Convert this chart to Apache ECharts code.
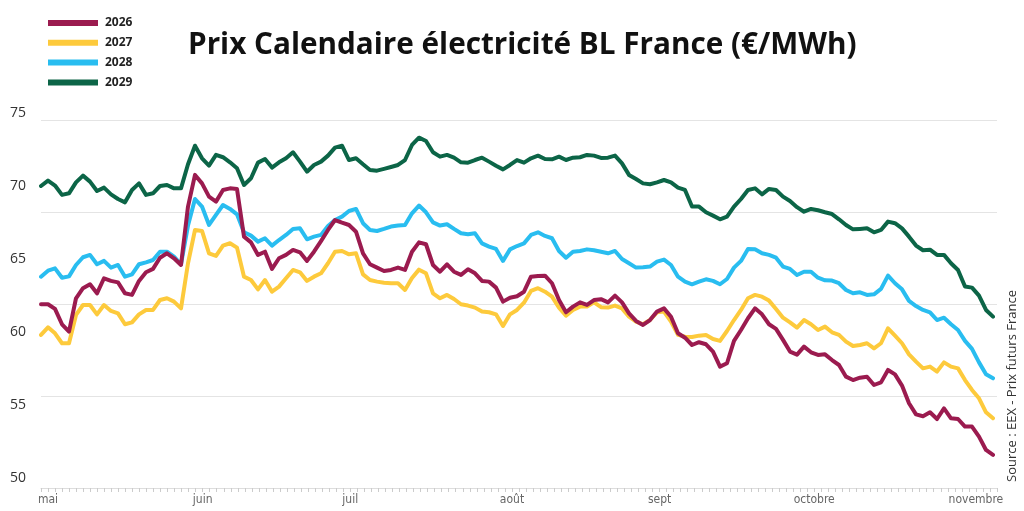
<!DOCTYPE html>
<html>
<head>
<meta charset="utf-8">
<script src="https://cdn.jsdelivr.net/npm/echarts@6/dist/echarts.min.js"></script>
<style>
html,body{margin:0;padding:0;background:#fff;}
#chart{width:1024px;height:511px;}
</style>
</head>
<body>
<div id="chart"></div>
<script>
const dates = [
'2025-04-30',
'2025-05-01','2025-05-02','2025-05-05','2025-05-06','2025-05-07','2025-05-08','2025-05-09','2025-05-12','2025-05-13','2025-05-14','2025-05-15','2025-05-16','2025-05-19','2025-05-20','2025-05-21','2025-05-22','2025-05-23','2025-05-26','2025-05-27','2025-05-28','2025-05-29','2025-05-30',
'2025-06-02','2025-06-03','2025-06-04','2025-06-05','2025-06-06','2025-06-09','2025-06-10','2025-06-11','2025-06-12','2025-06-13','2025-06-16','2025-06-17','2025-06-18','2025-06-19','2025-06-20','2025-06-23','2025-06-24','2025-06-25','2025-06-26','2025-06-27','2025-06-30',
'2025-07-01','2025-07-02','2025-07-03','2025-07-04','2025-07-07','2025-07-08','2025-07-09','2025-07-10','2025-07-11','2025-07-14','2025-07-15','2025-07-16','2025-07-17','2025-07-18','2025-07-21','2025-07-22','2025-07-23','2025-07-24','2025-07-25','2025-07-28','2025-07-29','2025-07-30','2025-07-31',
'2025-08-01','2025-08-04','2025-08-05','2025-08-06','2025-08-07','2025-08-08','2025-08-11','2025-08-12','2025-08-13','2025-08-14','2025-08-15','2025-08-18','2025-08-19','2025-08-20','2025-08-21','2025-08-22','2025-08-25','2025-08-26','2025-08-27','2025-08-28','2025-08-29',
'2025-09-01','2025-09-02','2025-09-03','2025-09-04','2025-09-05','2025-09-08','2025-09-09','2025-09-10','2025-09-11','2025-09-12','2025-09-15','2025-09-16','2025-09-17','2025-09-18','2025-09-19','2025-09-22','2025-09-23','2025-09-24','2025-09-25','2025-09-26','2025-09-29','2025-09-30',
'2025-10-01','2025-10-02','2025-10-03','2025-10-06','2025-10-07','2025-10-08','2025-10-09','2025-10-10','2025-10-13','2025-10-14','2025-10-15','2025-10-16','2025-10-17','2025-10-20','2025-10-21','2025-10-22','2025-10-23','2025-10-24','2025-10-27','2025-10-28','2025-10-29','2025-10-30','2025-10-31',
'2025-11-03','2025-11-04','2025-11-05','2025-11-06'
];

const cal2026 = [
61.9,61.9,61.58,60.53,60.03,62.31,63.0,63.27,62.65,63.68,63.5,63.4,62.65,62.54,63.5,64.09,64.32,65.09,65.39,65.05,64.59,68.59,70.76,70.18,69.27,68.93,69.73,
69.84,69.8,66.53,66.14,65.28,65.5,64.32,65.05,65.28,65.62,65.46,64.87,65.5,66.23,66.99,67.67,67.49,67.33,66.87,65.39,64.64,64.41,64.18,64.25,64.41,64.25,
65.5,
66.14,66.01,64.59,64.13,64.64,64.13,63.91,64.3,64.02,63.5,63.45,63.04,62.08,62.35,62.45,62.76,63.79,63.84,63.86,63.34,62.19,61.35,61.74,62.03,61.85,62.19,
62.25,
62.03,62.49,62.03,61.28,60.76,60.48,60.82,61.4,61.62,61.05,59.91,59.61,59.11,59.3,59.16,58.66,57.63,57.86,59.39,60.14,60.94,61.62,61.21,60.53,60.21,59.46,58.66,
58.45,
59.0,58.61,58.43,58.47,58.08,57.74,56.94,56.71,56.87,56.94,56.37,56.55,57.4,57.1,56.33,55.12,54.36,54.23,54.5,54.04,54.77,54.09,54.04,53.52,53.52,52.83,51.92,51.58
];

const cal2027 = [
59.8,60.32,59.91,59.23,59.23,61.17,61.85,61.85,61.21,61.85,61.44,61.28,60.53,60.66,61.21,61.51,61.51,62.19,62.31,62.08,61.62,64.71,66.99,66.92,65.39,65.21,65.92,
66.08,65.78,63.79,63.56,62.92,63.56,62.76,63.11,63.68,64.25,64.09,63.5,63.79,64.02,64.71,65.5,65.55,65.32,65.39,63.95,63.56,63.45,63.38,63.34,63.34,62.88,
63.7,
64.27,64.02,62.65,62.31,62.54,62.26,61.9,61.81,61.67,61.4,61.35,61.21,60.41,61.21,61.51,62.01,62.81,63.0,62.76,62.42,61.67,61.12,61.51,61.74,61.74,62.03,
61.7,
61.67,61.81,61.62,61.05,60.71,60.53,60.82,61.35,61.4,60.71,59.8,59.68,59.66,59.75,59.8,59.52,59.39,60.07,60.82,61.51,62.31,62.54,62.42,62.15,61.58,60.98,60.66,
60.3,
60.82,60.53,60.14,60.37,59.98,59.8,59.34,59.04,59.11,59.23,58.88,59.23,60.25,59.75,59.23,58.47,57.97,57.51,57.63,57.29,57.92,57.63,57.51,56.71,56.03,55.46,54.5,54.09
];

const cal2028 = [
63.79,64.2,64.36,63.72,63.81,64.59,65.12,65.28,64.64,64.87,64.41,64.59,63.79,63.95,64.64,64.77,64.93,65.5,65.5,65.16,64.64,67.29,69.11,68.59,67.33,68.02,68.7,
68.43,68.06,66.83,66.6,66.19,66.42,65.92,66.3,66.65,67.06,67.1,66.35,66.53,66.65,67.26,67.67,67.9,68.29,68.43,67.45,66.99,66.92,67.06,67.22,67.29,67.33,
68.13,
68.66,68.2,67.51,67.29,67.38,67.06,66.76,66.69,66.76,66.07,65.85,65.69,64.87,65.66,65.89,66.07,66.65,66.83,66.58,66.42,65.55,65.09,65.5,65.55,65.66,65.6,
65.5,
65.39,65.55,65.0,64.71,64.41,64.43,64.48,64.82,64.96,64.59,63.79,63.45,63.27,63.45,63.61,63.5,63.27,63.63,64.41,64.87,65.69,65.66,65.39,65.28,65.09,64.48,64.32,
63.9,
64.13,64.13,63.72,63.54,63.52,63.34,62.88,62.65,62.72,62.54,62.58,62.95,63.86,63.34,62.92,62.13,61.78,61.51,61.35,60.82,60.98,60.53,60.14,59.39,58.84,57.92,57.1,56.83
];

const cal2029 = [
70.0,70.37,70.03,69.39,69.5,70.25,70.71,70.3,69.66,69.89,69.43,69.11,68.88,69.73,70.18,69.39,69.5,70.0,70.07,69.84,69.84,71.49,72.76,71.9,71.4,72.13,71.97,
71.62,71.21,70.07,70.53,71.6,71.85,71.26,71.62,71.9,72.31,71.67,70.98,71.44,71.67,72.08,72.63,72.76,71.78,71.9,71.49,71.1,71.05,71.17,71.3,71.44,71.78,
72.81,
73.31,73.08,72.31,72.01,72.13,71.94,71.62,71.6,71.78,71.94,71.67,71.39,71.14,71.44,71.78,71.6,71.9,72.08,71.85,71.83,72.01,71.78,71.94,71.97,72.13,72.08,
71.92,
71.94,72.08,71.55,70.76,70.48,70.18,70.12,70.25,70.41,70.25,69.89,69.73,68.59,68.59,68.2,67.97,67.72,67.9,68.59,69.11,69.73,69.84,69.43,69.8,69.73,69.27,68.97,
68.55,
68.24,68.43,68.34,68.2,68.08,67.72,67.33,67.03,67.06,67.1,66.83,66.99,67.56,67.45,67.1,66.53,65.92,65.6,65.64,65.28,65.28,64.71,64.25,63.11,63.04,62.49,61.51,61.05
];

const seriesNames = ['2026','2027','2028','2029'];
const seriesColors = ['#9b1b4f','#fdca3c','#29bdf0','#0c6547'];
const monthLabels = ['mai','juin','juil','août','sept','octobre','novembre'];
const yTicks = [50, 75, 5];

const chart = echarts.init(document.getElementById('chart'), null, {renderer:'canvas'});

function isMonthStart(idx){
  return idx > 0 && dates[idx].slice(5,7) !== dates[idx-1].slice(5,7);
}
function monthName(val){
  return monthLabels[parseInt(val.slice(5,7),10) - 5] || '';
}

const allData = [cal2026, cal2027, cal2028, cal2029];

chart.setOption({
  backgroundColor:'#ffffff',
  animation:false,
  title:{
    text:'Prix Calendaire électricité BL France (€/MWh)',
    left:188, top:31, padding:0,
    textStyle:{fontFamily:'Open Sans', fontWeight:'bold', fontSize:29.7, color:'#111'}
  },
  legend:{
    orient:'vertical', left:48, top:17, padding:0,
    icon:'rect', itemWidth:50, itemHeight:6, itemGap:7.8,
    data:seriesNames,
    textStyle:{fontFamily:'Open Sans', fontWeight:'bold', fontSize:12, color:'#222', padding:[0,0,0,2]}
  },
  grid:[
    {left:41, right:31, top:113, bottom:33},
    {left:41, right:27, top:120, bottom:23}
  ],
  xAxis:[
    {gridIndex:0, type:'category', data:dates, boundaryGap:false, show:false},
    {gridIndex:1, type:'category', data:dates, boundaryGap:false,
     axisLine:{show:true, lineStyle:{color:'#dddddd', width:1}},
     axisTick:{show:true, interval:0, length:4, lineStyle:{color:'#cccccc'}},
     axisLabel:{interval:function(i){return isMonthStart(i);}, formatter:monthName,
       fontFamily:'"Liberation Sans Narrow", "DejaVu Sans Condensed", "Roboto", sans-serif', fontSize:12, color:'#666', margin:6}
    }
  ],
  yAxis:[
    {gridIndex:0, type:'value', min:yTicks[0], max:yTicks[1], interval:yTicks[2],
     splitLine:{show:false}, axisLine:{show:false}, axisTick:{show:false},
     axisLabel:{fontFamily:'Open Sans', fontSize:14, color:'#333', margin:15}
    },
    {gridIndex:1, type:'value', min:0, max:4, interval:1,
     axisLabel:{show:false}, axisLine:{show:false}, axisTick:{show:false},
     splitLine:{show:true, lineStyle:{color:'#e4e4e4', width:1}}
    }
  ],
  series: allData.map(function(d, k){
    return {
      name:seriesNames[k], type:'line', xAxisIndex:0, yAxisIndex:0,
      data:d, showSymbol:false, symbol:'none',
      itemStyle:{color:seriesColors[k]},
      lineStyle:{color:seriesColors[k], width:4, join:'round', cap:'round'},
      z: 10 - k
    };
  }),
  graphic:[
    {type:'text', x:1012, y:386, rotation:Math.PI/2,
     style:{text:'Source : EEX - Prix futurs France', fontFamily:'Open Sans', fontSize:13, fill:'#333', textAlign:'center', textVerticalAlign:'middle'}}
  ]
});
</script>
</body>
</html>
